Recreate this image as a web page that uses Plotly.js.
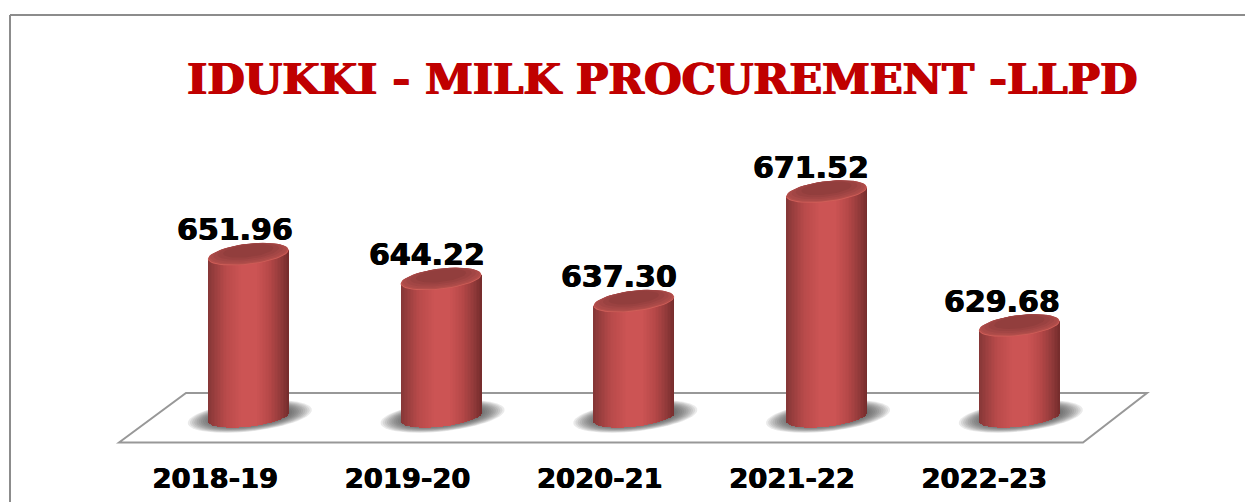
<!DOCTYPE html>
<html>
<head>
<meta charset="utf-8">
<script src="https://cdn.plot.ly/plotly-3.0.1.min.js"></script>
<style>html,body{margin:0;padding:0;background:#fff;overflow:hidden}#chart{width:1245px;height:502px}</style>
</head>
<body>
<div id="chart"></div>
<script>
var categories = ['2018-19', '2019-20', '2020-21', '2021-22', '2022-23'];
var values = [651.96, 644.22, 637.30, 671.52, 629.68];
var labels = ['651.96', '644.22', '637.30', '671.52', '629.68'];
var titleText = 'IDUKKI - MILK PROCUREMENT -LLPD';

var W = 1245, H = 502, plotH = 450;
var pxPerCat = 192.75, pxPerVal = 3.2;
var xRange = [-248.3 / pxPerCat, (W - 248.3) / pxPerCat];
var yTopVal = 629.68 + 325 / pxPerVal;
var yRange = [yTopVal - plotH / pxPerVal, yTopVal];
var baseVal = yTopVal - 416.7 / pxPerVal;

var halfW = 40.5 / pxPerCat;          // cylinder half width
var tilt = 4.5 / pxPerVal;            // ellipse rise across half width
var semi = 10 / pxPerVal;             // ellipse half height

var stops = [[0, [132, 54, 54]], [0.08, [152, 62, 62]], [0.22, [184, 74, 74]], [0.42, [204, 84, 84]],
             [0.6, [204, 84, 84]], [0.76, [182, 72, 72]], [0.9, [146, 58, 58]], [1, [116, 44, 44]]];
function shade(t) {
  for (var k = 1; k < stops.length; k++) {
    if (t <= stops[k][0]) {
      var a = stops[k - 1], b = stops[k], f = (t - a[0]) / (b[0] - a[0]);
      return 'rgb(' + [0, 1, 2].map(function (c) { return Math.round(a[1][c] + (b[1][c] - a[1][c]) * f); }).join(',') + ')';
    }
  }
  return 'rgb(116,44,44)';
}

var traces = [];
var N = 54, idx = categories.map(function (c, i) { return i; });
for (var s = 0; s < N; s++) {
  var u = -1 + 2 * (s + 0.5) / N;
  var lowEdge = baseVal + tilt * u - semi * Math.sqrt(1 - u * u);
  var left = -halfW + 2 * halfW * s / N;
  var w = Math.min(2 * halfW * 1.5 / N, halfW - left);
  traces.push({
    type: 'bar', x: idx, base: idx.map(function () { return lowEdge; }),
    y: values.map(function (v) { return v - 0.8 / pxPerVal + tilt * u - lowEdge; }),
    offset: left, width: w, marker: { color: shade((s + 0.5) / N), line: { width: 0 } },
    hoverinfo: 'skip', showlegend: false
  });
}

function ellipse(cx, cy, a, b, t, n) {
  var pts = [];
  for (var k = 0; k <= n; k++) {
    var th = 2 * Math.PI * k / n, cu = Math.cos(th);
    pts.push([cx + a * cu, cy + b * Math.sin(th) + t * cu]);
  }
  return pts;
}
var capLayers = [
  { k: 1.0, up: 0, color: '#cf5e58' },
  { k: 0.985, up: 0.7, color: '#b24e4b' },
  { k: 0.94, up: 1.4, color: '#aa4a48' },
  { k: 0.86, up: 2.2, color: '#a24645' },
  { k: 0.76, up: 3.0, color: '#9a4241' },
  { k: 0.62, up: 3.6, color: '#923e3d' }
];
capLayers.forEach(function (l) {
  var xs = [], ys = [];
  values.forEach(function (v, i) {
    ellipse(i, v + (l.up - 0.8) / pxPerVal, halfW * l.k, semi * l.k, tilt * l.k, 48).forEach(function (p) {
      xs.push(p[0]); ys.push(p[1]);
    });
    xs.push(null); ys.push(null);
  });
  traces.push({ type: 'scatter', mode: 'lines', x: xs, y: ys, fill: 'toself', fillcolor: l.color,
    line: { width: 0, color: l.color }, hoverinfo: 'skip', showlegend: false });
});

function pathOf(pts) {
  return 'M' + pts.map(function (p) { return p[0].toFixed(4) + ',' + p[1].toFixed(3); }).join('L') + 'Z';
}
var shapes = [];
// floor
function fx(p) { return p / W; }
function fy(p) { return 1 - p / plotH; }
shapes.push({ type: 'path', xref: 'paper', yref: 'paper', layer: 'below',
  path: 'M' + fx(119) + ',' + fy(442.5) + 'L' + fx(186) + ',' + fy(393) + 'L' + fx(1147) + ',' + fy(393) + 'L' + fx(1083) + ',' + fy(442.5) + 'Z',
  line: { color: '#989898', width: 2 }, fillcolor: 'rgba(0,0,0,0)' });
// soft shadows
var shadowSteps = [];
for (var q = 0; q < 16; q++) shadowSteps.push(1 - q * 0.035);
values.forEach(function (v, i) {
  shadowSteps.forEach(function (k) {
    shapes.push({ type: 'path', xref: 'x', yref: 'y', layer: 'below',
      path: pathOf(ellipse(i + 1.5 / pxPerCat, baseVal + 0.3 / pxPerVal, 62 * k / pxPerCat, 15 * k / pxPerVal, 6.5 * k / pxPerVal, 64)),
      line: { width: 0 }, fillcolor: 'rgba(60,60,60,0.11)' });
  });
});
// frame
shapes.push({ type: 'line', xref: 'paper', yref: 'paper', x0: fx(10), x1: fx(W), y0: fy(15), y1: fy(15), line: { color: '#8c8c8c', width: 2 } });
shapes.push({ type: 'line', xref: 'paper', yref: 'paper', x0: fx(10), x1: fx(10), y0: fy(15), y1: fy(H), line: { color: '#8c8c8c', width: 2 } });

var annotations = values.map(function (v, i) {
  return { x: i, y: v, xref: 'x', yref: 'y', text: labels[i], showarrow: false, yshift: 24, xshift: -13 - i,
    xanchor: 'center', yanchor: 'middle',
    font: { family: 'DejaVu Sans', size: 30, color: '#000', weight: 700, shadow: '0.6px 0 0 #000, -0.5px 0 0 #000' } };
});

Plotly.newPlot('chart', traces, {
  width: W, height: H,
  margin: { l: 0, r: 0, t: 0, b: H - plotH, pad: 0 },
  paper_bgcolor: '#fff', plot_bgcolor: 'rgba(0,0,0,0)',
  barmode: 'overlay', bargap: 0, showlegend: false,
  title: { text: titleText, x: 187 / W, xanchor: 'left', xref: 'paper', y: 1 - 79 / H, yanchor: 'middle', yref: 'container',
    font: { family: 'DejaVu Serif', size: 43.1, color: '#c00000', weight: 700, shadow: '1px 0 0 #c00000, -0.7px 0 0 #c00000' } },
  xaxis: { type: 'linear', range: xRange, tickmode: 'array',
    tickvals: idx.map(function (i) { return i - (33 + 0.5 * i) / pxPerCat; }), ticktext: categories,
    showgrid: false, zeroline: false, showline: false, ticks: '', ticklabelstandoff: 10,
    tickfont: { family: 'DejaVu Sans', size: 27.4, color: '#000', weight: 700, shadow: '0.5px 0 0 #000, -0.4px 0 0 #000' }, fixedrange: true },
  yaxis: { range: yRange, visible: false, showgrid: false, zeroline: false, fixedrange: true },
  shapes: shapes, annotations: annotations
}, { displayModeBar: false, staticPlot: true });
</script>
</body>
</html>
